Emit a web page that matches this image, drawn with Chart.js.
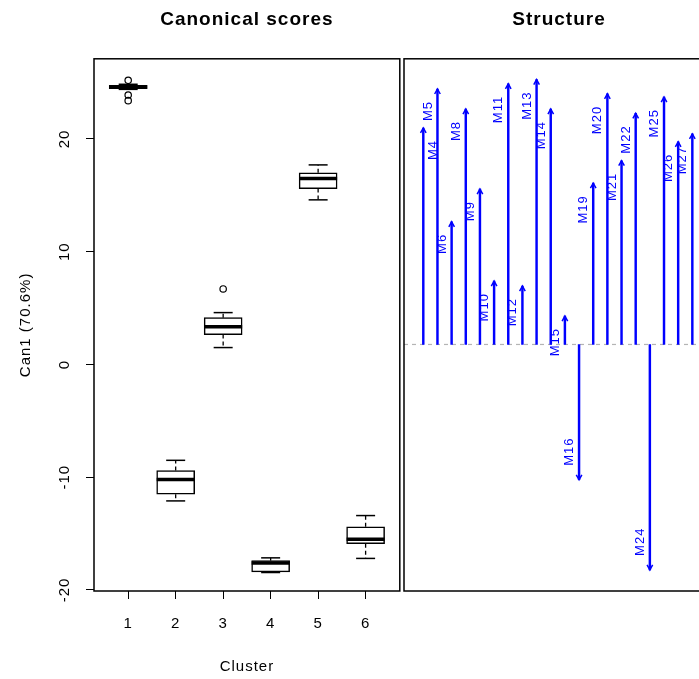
<!DOCTYPE html>
<html><head><meta charset="utf-8">
<script src="https://cdn.jsdelivr.net/npm/chart.js@4.4.1/dist/chart.umd.min.js"></script>
<style>
html,body{margin:0;padding:0;background:#fff;overflow:hidden;width:699px;height:679px;position:relative;}
#left{position:absolute;left:0;top:0;}
#right{position:absolute;left:402px;top:0;}
</style></head><body>
<canvas id="left" width="405" height="679"></canvas>
<canvas id="right" width="320" height="679"></canvas>
<script>
// ---- Canonical scores (boxplots by cluster) ----
const clusters     = [1, 2, 3, 4, 5, 6];
const whiskerLow   = [24.40, -12.1, 1.50, -18.45, 14.6, -17.2];
const boxQ1        = [24.45, -11.5, 2.65, -18.40, 15.6, -15.9];
const boxMedian    = [24.60, -10.2, 3.35, -17.60, 16.5, -15.5];
const boxQ3        = [24.75,  -9.4, 4.15, -17.40, 17.0, -14.4];
const whiskerHigh  = [24.85,  -8.5, 4.60, -17.15, 17.7, -13.4];
const outlierCluster = [1, 1, 1, 3];
const outlierValue   = [25.2, 23.9, 23.4, 6.7];
const yTicks = [-20, -10, 0, 10, 20];

// ---- Structure (arrows) ----
const variables = ['M4','M5','M6','M8','M9','M10','M11','M12','M13','M14','M15','M16','M19','M20','M21','M22','M24','M25','M26','M27'];
const structure = [0.80, 0.944, 0.453, 0.870, 0.574, 0.234, 0.963, 0.216, 0.979, 0.870, 0.105, -0.50, 0.596, 0.926, 0.679, 0.854, -0.833, 0.914, 0.749, 0.778];

const FONT = "'Liberation Sans', Arial, sans-serif";
Chart.defaults.font.family = FONT;
Chart.defaults.color = '#000';

const spacingPlugin = {
  id: 'spacing',
  beforeInit(chart){ chart.ctx.letterSpacing = '1px'; },
  beforeUpdate(chart){ chart.ctx.letterSpacing = '1px'; },
  beforeDraw(chart){ chart.ctx.letterSpacing = '1px'; }
};

const framePlugin = {
  id: 'frame',
  afterDraw(chart){
    const {ctx, chartArea:a} = chart;
    ctx.save();
    ctx.strokeStyle = '#000';
    ctx.lineWidth = 1.5;
    ctx.setLineDash([]);
    ctx.strokeRect(a.left, a.top, a.right - a.left, a.bottom - a.top);
    ctx.restore();
  }
};

const BOX_W = 38;
const boxPlugin = {
  id: 'boxExtras',
  afterDatasetsDraw(chart){
    const {ctx, scales:{x, y}} = chart;
    const seg = (x1,y1,x2,y2)=>{ctx.beginPath();ctx.moveTo(x1,y1);ctx.lineTo(x2,y2);ctx.stroke();};
    ctx.save();
    ctx.strokeStyle = '#000';
    clusters.forEach((c,i)=>{
      const px = x.getPixelForValue(c);
      const yq1 = y.getPixelForValue(boxQ1[i]), yq3 = y.getPixelForValue(boxQ3[i]);
      const ylo = y.getPixelForValue(whiskerLow[i]), yhi = y.getPixelForValue(whiskerHigh[i]);
      const ymd = y.getPixelForValue(boxMedian[i]);
      ctx.lineWidth = 1.3;
      ctx.setLineDash([4,3]);
      seg(px, yq3, px, yhi);
      seg(px, yq1, px, ylo);
      ctx.setLineDash([]);
      ctx.lineWidth = 1.5;
      seg(px - BOX_W/4, yhi, px + BOX_W/4, yhi);
      seg(px - BOX_W/4, ylo, px + BOX_W/4, ylo);
      ctx.lineWidth = 3.5;
      seg(px - BOX_W/2, ymd, px + BOX_W/2, ymd);
    });
    ctx.restore();
  }
};

new Chart(document.getElementById('left'), {
  type: 'bar',
  data: {
    datasets: [
      {
        type: 'bar',
        data: clusters.map((c,i)=>({x:c, y:[boxQ1[i], boxQ3[i]]})),
        backgroundColor: '#fff',
        borderColor: '#000',
        borderWidth: 1.5,
        borderSkipped: false,
        barThickness: BOX_W
      },
      {
        type: 'scatter',
        data: outlierCluster.map((c,i)=>({x:c, y:outlierValue[i]})),
        pointStyle: 'circle',
        pointRadius: 3.2,
        pointBorderWidth: 1.2,
        pointBorderColor: '#000',
        pointBackgroundColor: 'rgba(0,0,0,0)'
      }
    ]
  },
  options: {
    responsive: false,
    animation: false,
    events: [],
    devicePixelRatio: 1,
    layout: {padding: {left:0, right:0, top:0, bottom:0}},
    plugins: {
      legend: {display:false},
      tooltip: {enabled:false},
      title: {
        display: true, text: 'Canonical scores', color:'#000',
        font: {size:19, weight:'bold', family: FONT},
        padding: {top:8, bottom:28}, fullSize: false
      }
    },
    scales: {
      x: {
        type: 'linear', min: 0.28, max: 6.72, offset: false,
        grid: {display:true, drawOnChartArea:false, drawTicks:true, tickLength:8, tickColor:'#000', offset:false},
        border: {display:false},
        ticks: {font:{size:15}, padding:16, color:'#000', maxRotation:0, autoSkip:false},
        afterBuildTicks: s => { s.ticks = clusters.map(v=>({value:v})); },
        afterFit: s => { s.height = 88; },
        title: {display:true, text:'Cluster', font:{size:15}, padding:{top:0, bottom:3}, color:'#000'}
      },
      y: {
        type: 'linear', min: -20.09, max: 27.11,
        grid: {display:true, drawOnChartArea:false, drawTicks:true, tickLength:8, tickColor:'#000'},
        border: {display:false},
        ticks: {font:{size:15}, padding:9, color:'#000', minRotation:90, maxRotation:90, crossAlign:'center', autoSkip:false},
        afterBuildTicks: s => { s.ticks = yTicks.map(v=>({value:v})); },
        afterFit: s => { s.width = 94; },
        title: {display:true, text:'Can1 (70.6%)', font:{size:15}, padding:{top:17, bottom:0}, color:'#000'}
      }
    }
  },
  plugins: [spacingPlugin, boxPlugin, framePlugin]
});

const arrowPlugin = {
  id: 'arrows',
  beforeDatasetsDraw(chart){
    const {ctx, chartArea:a, scales:{y}} = chart;
    const y0 = y.getPixelForValue(0);
    ctx.save();
    ctx.strokeStyle = '#B4B4B4';
    ctx.lineWidth = 1.2;
    ctx.setLineDash([4,4]);
    ctx.beginPath(); ctx.moveTo(a.left, y0); ctx.lineTo(a.right, y0); ctx.stroke();
    ctx.restore();
  },
  afterDatasetsDraw(chart){
    const {ctx, scales:{x, y}} = chart;
    ctx.save();
    ctx.strokeStyle = '#0000FF';
    ctx.fillStyle = '#0000FF';
    ctx.lineWidth = 1.5;
    ctx.setLineDash([]);
    ctx.font = '13px ' + FONT;
    ctx.letterSpacing = '1px';
    ctx.textBaseline = 'middle';
    variables.forEach((name,i)=>{
      const v = structure[i];
      const px = x.getPixelForValue(i);
      const py = y.getPixelForValue(v);
      const dir = v >= 0 ? 1 : -1;
      ctx.beginPath();
      ctx.moveTo(px - 2.8, py + dir*5);
      ctx.lineTo(px, py);
      ctx.lineTo(px + 2.8, py + dir*5);
      ctx.stroke();
      const off = name === 'M4' ? 10 : -9.5;
      ctx.save();
      if (dir > 0) {
        ctx.translate(px + off, py + 12);
        ctx.rotate(-Math.PI/2);
        ctx.textAlign = 'right';
      } else {
        ctx.translate(px + off, py - 14);
        ctx.rotate(-Math.PI/2);
        ctx.textAlign = 'left';
      }
      ctx.fillText(name, 0, 0);
      ctx.restore();
    });
    ctx.restore();
  }
};

new Chart(document.getElementById('right'), {
  type: 'bar',
  data: {
    datasets: [{
      data: variables.map((n,i)=>({x:i, y:[0, structure[i]]})),
      backgroundColor: '#0000FF',
      borderWidth: 0,
      barThickness: 1.8
    }]
  },
  options: {
    responsive: false,
    animation: false,
    events: [],
    devicePixelRatio: 1,
    layout: {padding: {left:2, right:8, top:0, bottom:88}},
    plugins: {
      legend: {display:false},
      tooltip: {enabled:false},
      title: {
        display: true, text: 'Structure', color:'#000',
        font: {size:19, weight:'bold', family: FONT},
        padding: {top:8, bottom:28}, fullSize: false
      }
    },
    scales: {
      x: {type:'linear', min:-1.363, max:20.53, offset:false, display:false},
      y: {type:'linear', min:-0.911, max:1.0556, display:false}
    }
  },
  plugins: [spacingPlugin, arrowPlugin, framePlugin]
});
</script>
</body></html>
